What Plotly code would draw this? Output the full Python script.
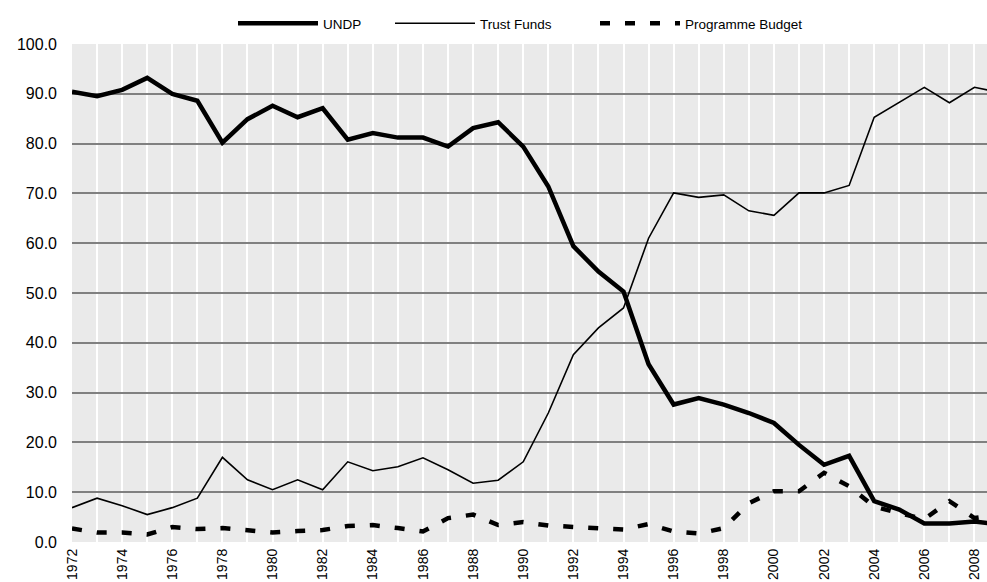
import plotly.graph_objects as go

years = list(range(1972, 2010))
undp = [90.4, 89.5, 90.8, 93.2, 90.0, 88.6, 80.2, 84.9, 87.6, 85.3, 87.1,
        80.8, 82.1, 81.2, 81.2, 79.4, 83.1, 84.3, 79.4, 71.4, 59.4, 54.3,
        50.3, 35.7, 27.6, 28.9, 27.6, 25.9, 23.9, 19.5, 15.5, 17.3, 8.2,
        6.5, 3.7, 3.7, 4.1, 3.5]
trust_funds = [6.9, 8.8, 7.3, 5.5, 6.9, 8.8, 17.0, 12.5, 10.5, 12.5, 10.5,
               16.1, 14.3, 15.1, 16.9, 14.5, 11.8, 12.4, 16.1, 25.9, 37.6, 43.0,
               47.0, 61.0, 70.1, 69.2, 69.7, 66.5, 65.6, 70.1, 70.1, 71.6, 85.3,
               88.3, 91.3, 88.2, 91.3, 90.3]
programme_budget = [2.7, 1.9, 1.9, 1.5, 3.0, 2.6, 2.8, 2.3, 1.9, 2.2, 2.4,
                    3.2, 3.4, 2.8, 2.1, 4.8, 5.5, 3.4, 4.0, 3.3, 3.0, 2.9,
                    2.5, 3.6, 2.1, 1.7, 2.8, 7.8, 10.2, 10.2, 13.9, 11.2, 7.1,
                    5.8, 4.6, 8.2, 4.8, 5.5]
tick_labels = [str(y) if y % 2 == 0 else "" for y in years]
y_ticks = [0, 10, 20, 30, 40, 50, 60, 70, 80, 90, 100]

FONT = "Liberation Sans, Arial, sans-serif"
W, H = 987, 582

fig = go.Figure()
fig.add_trace(go.Scatter(x=years, y=undp, name="UNDP", mode="lines",
                         legendwidth=62,
                         line=dict(color="black", width=4.5)))
fig.add_trace(go.Scatter(x=years, y=trust_funds, name="Trust Funds", mode="lines",
                         legendwidth=110,
                         line=dict(color="black", width=1.6)))
fig.add_trace(go.Scatter(x=years, y=programme_budget, name="Programme Budget", mode="lines",
                         line=dict(color="black", width=4.5, dash="10px,15px")))

fig.update_layout(
    width=W, height=H,
    margin=dict(l=72, r=0, t=44, b=40, autoexpand=False),
    paper_bgcolor="white",
    plot_bgcolor="#EAEAEA",
    font=dict(family=FONT, color="black"),
    showlegend=True,
    legend=dict(orientation="h", xref="container", x=233 / W, xanchor="left",
                yref="container", y=1 - 23.5 / H, yanchor="middle",
                font=dict(size=13.5, family=FONT),
                bgcolor="rgba(0,0,0,0)", itemwidth=80),
    xaxis=dict(range=[1972, 2008.5], tickvals=years, ticktext=tick_labels,
               tickangle=-90, showgrid=True, gridcolor="white", gridwidth=1.5,
               zeroline=False, showline=False, ticks="", automargin=False,
               ticklabelstandoff=3,
               tickfont=dict(size=14, family=FONT)),
    yaxis=dict(range=[0, 100], tickvals=y_ticks,
               ticktext=[f"{v:.1f}" for v in y_ticks],
               showgrid=True, gridcolor="#808080", gridwidth=2,
               zeroline=False, showline=False, ticks="", automargin=False,
               ticklabelstandoff=14,
               tickfont=dict(size=16, family=FONT)),
)

fig.write_html("out.html",
               config={"displayModeBar": False},
               post_script="document.body.style.margin='0';"
                           "document.body.style.overflow='hidden';")
